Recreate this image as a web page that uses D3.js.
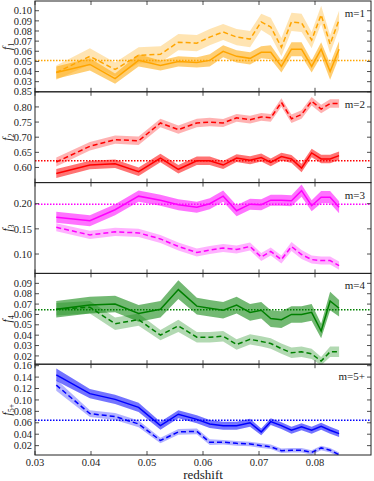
<!DOCTYPE html>
<html>
<head>
<meta charset="utf-8">
<script src="https://cdn.jsdelivr.net/npm/d3@7"></script>
<style>
  body { margin: 0; background: #fff; }
  svg text { font-family: "Liberation Serif", "DejaVu Serif", serif; fill: #222; }
</style>
</head>
<body>
<svg id="chart" width="374" height="481"></svg>
<script>
// redshift bins (shared by all panels)
const redshift = [0.0338, 0.0398, 0.0443, 0.0485, 0.0524, 0.0556, 0.0589, 0.0612, 0.0636, 0.0660,
                  0.0684, 0.0704, 0.0721, 0.0740, 0.0758, 0.0776, 0.0794, 0.0811, 0.0827, 0.0843];

// m=1
const f1Solid = [0.039, 0.047, 0.033, 0.051, 0.046, 0.050, 0.049, 0.051, 0.060, 0.055,
                 0.053, 0.059, 0.059, 0.045, 0.062, 0.062, 0.045, 0.062, 0.040, 0.062];
const f1SolidErr = [0.006, 0.006, 0.005, 0.006, 0.005, 0.005, 0.005, 0.006, 0.006, 0.006,
                    0.006, 0.006, 0.007, 0.006, 0.007, 0.007, 0.006, 0.007, 0.008, 0.008];
const f1Dashed = [0.039, 0.055, 0.042, 0.056, 0.057, 0.069, 0.068, 0.074, 0.079, 0.074,
                  0.072, 0.089, 0.084, 0.064, 0.089, 0.088, 0.071, 0.096, 0.067, 0.091];
const f1DashedErr = [0.007, 0.008, 0.007, 0.008, 0.008, 0.008, 0.008, 0.008, 0.008, 0.008,
                     0.008, 0.008, 0.009, 0.009, 0.009, 0.009, 0.008, 0.009, 0.009, 0.009];

// m=2
const f2Solid = [0.580, 0.608, 0.612, 0.586, 0.631, 0.594, 0.622, 0.622, 0.608, 0.631,
                 0.624, 0.633, 0.617, 0.636, 0.628, 0.598, 0.648, 0.628, 0.628, 0.639];
const f2SolidErr = [0.015, 0.014, 0.014, 0.014, 0.014, 0.014, 0.014, 0.014, 0.013, 0.013,
                    0.013, 0.013, 0.013, 0.013, 0.013, 0.014, 0.014, 0.014, 0.014, 0.014];
const f2Dashed = [0.618, 0.670, 0.692, 0.688, 0.747, 0.725, 0.747, 0.750, 0.747, 0.764,
                  0.758, 0.767, 0.764, 0.815, 0.761, 0.775, 0.819, 0.793, 0.811, 0.811];
const f2DashedErr = [0.015, 0.014, 0.014, 0.014, 0.014, 0.014, 0.014, 0.014, 0.013, 0.013,
                     0.013, 0.013, 0.013, 0.014, 0.014, 0.014, 0.014, 0.014, 0.014, 0.014];

// m=3
const f3Solid = [0.173, 0.166, 0.188, 0.215, 0.207, 0.198, 0.193, 0.200, 0.215, 0.186,
                 0.199, 0.198, 0.207, 0.207, 0.206, 0.226, 0.196, 0.213, 0.213, 0.193];
const f3SolidErr = [0.011, 0.011, 0.011, 0.011, 0.011, 0.011, 0.011, 0.011, 0.011, 0.011,
                    0.011, 0.011, 0.011, 0.011, 0.011, 0.012, 0.011, 0.012, 0.012, 0.012];
const f3Dashed = [0.153, 0.138, 0.144, 0.142, 0.130, 0.115, 0.103, 0.108, 0.112, 0.109,
                  0.115, 0.094, 0.105, 0.089, 0.115, 0.099, 0.089, 0.087, 0.087, 0.077];
const f3DashedErr = [0.008, 0.008, 0.008, 0.008, 0.008, 0.008, 0.008, 0.008, 0.008, 0.008,
                     0.008, 0.008, 0.008, 0.008, 0.009, 0.009, 0.008, 0.008, 0.008, 0.008];

// m=4
const f4Solid = [0.065, 0.069, 0.070, 0.061, 0.065, 0.084, 0.068, 0.066, 0.064, 0.069,
                 0.062, 0.064, 0.056, 0.055, 0.060, 0.060, 0.062, 0.044, 0.073, 0.066];
const f4SolidErr = [0.008, 0.008, 0.008, 0.008, 0.008, 0.009, 0.008, 0.008, 0.008, 0.008,
                    0.008, 0.008, 0.008, 0.008, 0.008, 0.008, 0.008, 0.007, 0.009, 0.008];
const f4Dashed = [0.065, 0.067, 0.051, 0.055, 0.040, 0.049, 0.038, 0.038, 0.039, 0.031,
                  0.036, 0.034, 0.032, 0.027, 0.023, 0.024, 0.022, 0.015, 0.024, 0.024];
const f4DashedErr = [0.006, 0.006, 0.006, 0.006, 0.005, 0.006, 0.005, 0.005, 0.005, 0.005,
                     0.005, 0.005, 0.005, 0.005, 0.005, 0.005, 0.005, 0.004, 0.005, 0.005];

// m=5+
const f5Solid = [0.144, 0.111, 0.101, 0.087, 0.055, 0.075, 0.066, 0.058, 0.055, 0.055,
                 0.060, 0.044, 0.062, 0.055, 0.047, 0.053, 0.047, 0.054, 0.047, 0.041];
const f5SolidErr = [0.011, 0.008, 0.008, 0.008, 0.007, 0.007, 0.007, 0.007, 0.007, 0.007,
                    0.007, 0.006, 0.006, 0.006, 0.006, 0.006, 0.006, 0.006, 0.006, 0.006];
const f5Dashed = [0.126, 0.076, 0.071, 0.058, 0.029, 0.044, 0.045, 0.026, 0.026, 0.024,
                  0.023, 0.020, 0.018, 0.011, 0.012, 0.012, 0.008, 0.016, 0.012, 0.004];
const f5DashedErr = [0.010, 0.006, 0.006, 0.006, 0.005, 0.005, 0.005, 0.005, 0.004, 0.004,
                     0.004, 0.004, 0.004, 0.004, 0.004, 0.004, 0.004, 0.004, 0.004, 0.004];

const refLevels = [0.051, 0.622, 0.199, 0.0645, 0.0645];
const panelLabels = ["m=1", "m=2", "m=3", "m=4", "m=5+"];
const ySubscripts = ["1", "2", "3", "4", "5+"];
const yDomains = [[0.020, 0.1096], [0.55, 0.85], [0.0615, 0.2419], [0.012, 0.0996], [0.0036, 0.1626]];
const yTicks = [
  [0.03, 0.04, 0.05, 0.06, 0.07, 0.08, 0.09, 0.10],
  [0.60, 0.65, 0.70, 0.75, 0.80, 0.85],
  [0.10, 0.15, 0.20],
  [0.02, 0.03, 0.04, 0.05, 0.06, 0.07, 0.08, 0.09],
  [0.02, 0.04, 0.06, 0.08, 0.10, 0.12, 0.14, 0.16]
];
const xTicks = [0.03, 0.04, 0.05, 0.06, 0.07, 0.08];
const colors = ["#FFA500", "#FF0000", "#FF00FF", "#008000", "#0000FF"];

const panels = [
  [f1Solid, f1SolidErr, f1Dashed, f1DashedErr],
  [f2Solid, f2SolidErr, f2Dashed, f2DashedErr],
  [f3Solid, f3SolidErr, f3Dashed, f3DashedErr],
  [f4Solid, f4SolidErr, f4Dashed, f4DashedErr],
  [f5Solid, f5SolidErr, f5Dashed, f5DashedErr]
];

const svg = d3.select("#chart");
const plotLeft = 35, plotRight = 371, plotTop = 1, plotBottom = 455;
const ph = (plotBottom - plotTop) / panels.length;

const x = d3.scaleLinear().domain([0.03, 0.09]).range([plotLeft, plotRight]);

panels.forEach((p, i) => {
  const [solid, solidErr, dashed, dashedErr] = p;
  const y0 = plotTop + i * ph;
  const y = d3.scaleLinear().domain(yDomains[i]).range([y0 + ph, y0]);
  const col = colors[i];
  const g = svg.append("g");

  g.append("clipPath").attr("id", "clip" + i)
    .append("rect").attr("x", plotLeft).attr("y", y0).attr("width", plotRight - plotLeft).attr("height", ph);
  const plot = g.append("g").attr("clip-path", `url(#clip${i})`);

  // shaded uncertainty bands
  const area = (vals, errs) => d3.area()
    .x((d, k) => x(redshift[k]))
    .y0((d, k) => y(vals[k] - errs[k]))
    .y1((d, k) => y(vals[k] + errs[k]))(vals);
  const line = d3.line().x((d, k) => x(redshift[k])).y(d => y(d));

  plot.append("path").attr("d", area(dashed, dashedErr))
    .attr("fill", col).attr("fill-opacity", 0.3);
  plot.append("path").attr("d", area(solid, solidErr))
    .attr("fill", col).attr("fill-opacity", 0.55);
  plot.append("path").attr("d", line(dashed))
    .attr("fill", "none").attr("stroke", col).attr("stroke-width", 1.5)
    .attr("stroke-dasharray", "5,3");
  plot.append("path").attr("d", line(solid))
    .attr("fill", "none").attr("stroke", col).attr("stroke-width", 1.5);

  // reference level
  plot.append("line")
    .attr("x1", plotLeft).attr("x2", plotRight)
    .attr("y1", y(refLevels[i])).attr("y2", y(refLevels[i]))
    .attr("stroke", col).attr("stroke-width", 1.5).attr("stroke-dasharray", "1.5,1.5");

  // ticks on all four sides, pointing inward
  const tl = 4;
  yTicks[i].forEach(t => {
    const yy = y(t);
    g.append("line").attr("x1", plotLeft).attr("x2", plotLeft + tl).attr("y1", yy).attr("y2", yy)
      .attr("stroke", "#222").attr("stroke-width", 0.8);
    g.append("line").attr("x1", plotRight).attr("x2", plotRight - tl).attr("y1", yy).attr("y2", yy)
      .attr("stroke", "#222").attr("stroke-width", 0.8);
    g.append("text").attr("x", plotLeft - 3).attr("y", yy).attr("dy", "0.35em")
      .attr("text-anchor", "end").attr("font-size", 10.5)
      .text(d3.format(".2f")(t));
  });
  xTicks.forEach(t => {
    const xx = x(t);
    g.append("line").attr("x1", xx).attr("x2", xx).attr("y1", y0 + ph).attr("y2", y0 + ph - tl)
      .attr("stroke", "#222").attr("stroke-width", 0.8);
    g.append("line").attr("x1", xx).attr("x2", xx).attr("y1", y0).attr("y2", y0 + tl)
      .attr("stroke", "#222").attr("stroke-width", 0.8);
  });

  g.append("rect").attr("x", plotLeft).attr("y", y0).attr("width", plotRight - plotLeft).attr("height", ph)
    .attr("fill", "none").attr("stroke", "#222").attr("stroke-width", 1);

  g.append("text").attr("x", 365).attr("y", y0 + 16).attr("text-anchor", "end")
    .attr("font-size", 11).text(panelLabels[i]);

  const lab = g.append("text")
    .attr("transform", `translate(11,${y0 + ph / 2}) rotate(-90)`)
    .attr("text-anchor", "middle").attr("font-size", 11.5);
  lab.append("tspan").attr("font-style", "italic").text("f");
  lab.append("tspan").attr("font-size", 8).attr("dy", 3).text(ySubscripts[i]);
});

// bottom axis labels
xTicks.forEach(t => {
  svg.append("text").attr("x", x(t)).attr("y", plotBottom + 11).attr("text-anchor", "middle")
    .attr("font-size", 10.5).text(d3.format(".2f")(t));
});
svg.append("text").attr("x", (plotLeft + plotRight) / 2).attr("y", plotBottom + 24)
  .attr("text-anchor", "middle").attr("font-size", 13).text("redshift");
</script>
</body>
</html>
